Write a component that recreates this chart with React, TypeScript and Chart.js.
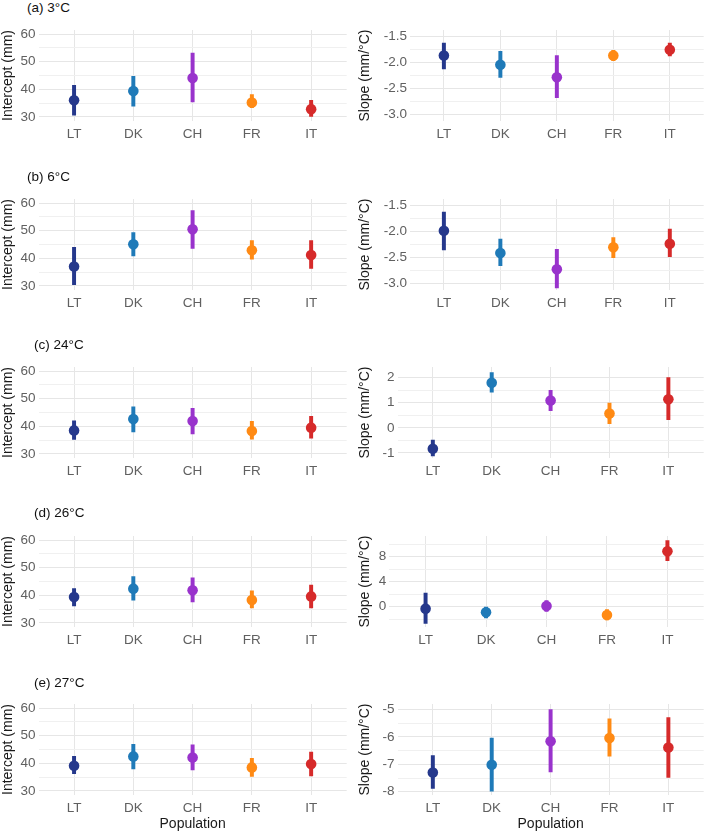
import React, { useEffect, useRef } from "react";
import { Chart, registerables } from "chart.js";

Chart.register(...registerables);

// ---------- data ----------
const populations = ["LT", "DK", "CH", "FR", "IT"];
const popColors = ["#25388C", "#1F7AB8", "#9933CC", "#FF8A14", "#D62A2A"];
const panelTags = ["(a) 3°C", "(b) 6°C", "(c) 24°C", "(d) 26°C", "(e) 27°C"];

const intercept3Est = [36.0, 39.4, 44.1, 35.2, 32.8];
const intercept3Low = [30.6, 33.9, 35.4, 33.3, 30.2];
const intercept3High = [41.4, 44.7, 53.1, 38.1, 36.0];

const slope3Est = [-1.87, -2.05, -2.29, -1.87, -1.76];
const slope3Low = [-2.13, -2.29, -2.68, -1.97, -1.88];
const slope3High = [-1.63, -1.79, -1.87, -1.77, -1.63];

const intercept6Est = [37.0, 45.1, 50.5, 42.9, 41.2];
const intercept6Low = [30.4, 40.9, 43.6, 39.7, 36.3];
const intercept6High = [44.0, 49.3, 57.3, 46.4, 46.4];

const slope6Est = [-1.99, -2.42, -2.73, -2.31, -2.24];
const slope6Low = [-2.36, -2.66, -3.09, -2.51, -2.49];
const slope6High = [-1.63, -2.15, -2.35, -2.12, -1.96];

const intercept24Est = [38.5, 42.6, 41.9, 38.3, 39.5];
const intercept24Low = [35.2, 38.0, 37.2, 35.3, 35.7];
const intercept24High = [42.0, 47.1, 46.5, 41.8, 43.6];

const slope24Est = [-0.83, 1.79, 1.09, 0.57, 1.14];
const slope24Low = [-1.12, 1.42, 0.68, 0.17, 0.32];
const slope24High = [-0.49, 2.2, 1.49, 0.98, 2.0];

const intercept26Est = [39.4, 42.4, 41.8, 38.3, 39.6];
const intercept26Low = [36.1, 38.2, 37.6, 35.4, 35.4];
const intercept26High = [42.4, 46.8, 46.3, 41.6, 43.7];

const slope26Est = [-0.32, -0.91, 0.11, -1.33, 8.85];
const slope26Low = [-2.67, -1.81, -0.75, -2.13, 7.36];
const slope26High = [2.19, 0.0, 0.96, -0.48, 10.56];

const intercept27Est = [39.1, 42.5, 42.1, 38.5, 39.7];
const intercept27Low = [36.2, 38.0, 37.6, 35.2, 35.4];
const intercept27High = [42.5, 46.9, 46.7, 41.8, 44.1];

const slope27Est = [-7.3, -7.02, -6.16, -6.04, -6.39];
const slope27Low = [-7.88, -7.98, -7.28, -6.7, -7.48];
const slope27High = [-6.68, -6.04, -5.0, -5.34, -5.3];

// tick labels (major) and minor grid breaks
const interceptTicks = [30, 40, 50, 60];
const interceptMinor = [35, 45, 55];
const slopeTicks36 = [-3.0, -2.5, -2.0, -1.5];
const slopeMinor36 = [-2.75, -2.25, -1.75];
const slopeTicks24 = [-1, 0, 1, 2];
const slopeMinor24 = [-0.5, 0.5, 1.5];
const slopeTicks26 = [0, 4, 8];
const slopeMinor26 = [-2, 2, 6, 10];
const slopeTicks27 = [-8, -7, -6, -5];
const slopeMinor27 = [-7.5, -6.5, -5.5];

// ---------- layout / style ----------
const FONT = "'Liberation Sans', Arial, Helvetica, sans-serif";
const TICK_COLOR = "#606060";
const TITLE_COLOR = "#1a1a1a";
const GRID_MAJOR = "#e6e6e6";
const GRID_MINOR = "#f0f0f0";

const rowTops = [0, 169, 337, 506, 674];
const tagCenters = [8, 177, 345, 512.5, 682.5];
const tagLefts = [27, 27, 34, 34, 34];
const rightAxisWidths = [53, 53, 40.5, 32.3, 40.5];

type PanelSpec = {
  key: string;
  left: number;
  top: number;
  width: number;
  height: number;
  est: number[];
  low: number[];
  high: number[];
  yTitle: string;
  yMin: number;
  yMax: number;
  major: number[];
  minor: number[];
  decimals: number;
  axisWidth: number;
  padRight: number;
  xAxisHeight: number;
  xTitle?: string;
};

const leftData = [
  [intercept3Est, intercept3Low, intercept3High],
  [intercept6Est, intercept6Low, intercept6High],
  [intercept24Est, intercept24Low, intercept24High],
  [intercept26Est, intercept26Low, intercept26High],
  [intercept27Est, intercept27Low, intercept27High],
];
const rightData = [
  [slope3Est, slope3Low, slope3High],
  [slope6Est, slope6Low, slope6High],
  [slope24Est, slope24Low, slope24High],
  [slope26Est, slope26Low, slope26High],
  [slope27Est, slope27Low, slope27High],
];
const rightScales = [
  { min: -3.13, max: -1.38, major: slopeTicks36, minor: slopeMinor36, decimals: 1 },
  { min: -3.13, max: -1.38, major: slopeTicks36, minor: slopeMinor36, decimals: 1 },
  { min: -1.2, max: 2.42, major: slopeTicks24, minor: slopeMinor24, decimals: 0 },
  { min: -3.25, max: 11.3, major: slopeTicks26, minor: slopeMinor26, decimals: 0 },
  { min: -8.12, max: -4.8, major: slopeTicks27, minor: slopeMinor27, decimals: 0 },
];

const panels: PanelSpec[] = [];
rowTops.forEach((T, r) => {
  const last = r === rowTops.length - 1;
  const xAxisHeight = last ? 39 : 26;
  const height = 14 + 91 + xAxisHeight;
  panels.push({
    key: `L${r}`,
    left: 0,
    top: T + 16,
    width: 352,
    height,
    est: leftData[r][0],
    low: leftData[r][1],
    high: leftData[r][2],
    yTitle: "Intercept (mm)",
    yMin: 28.5,
    yMax: 61.5,
    major: interceptTicks,
    minor: interceptMinor,
    decimals: 0,
    axisWidth: 38.5,
    padRight: 2.8,
    xAxisHeight,
    xTitle: last ? "Population" : undefined,
  });
  const s = rightScales[r];
  panels.push({
    key: `R${r}`,
    left: 357,
    top: T + 16,
    width: 352,
    height,
    est: rightData[r][0],
    low: rightData[r][1],
    high: rightData[r][2],
    yTitle: "Slope (mm/°C)",
    yMin: s.min,
    yMax: s.max,
    major: s.major,
    minor: s.minor,
    decimals: s.decimals,
    axisWidth: rightAxisWidths[r],
    padRight: 1.5,
    xAxisHeight,
    xTitle: last ? "Population" : undefined,
  });
});

function Panel({ spec }: { spec: PanelSpec }) {
  const ref = useRef<HTMLCanvasElement>(null);
  useEffect(() => {
    const canvas = ref.current;
    if (!canvas) return;
    const allTicks = [...spec.major, ...spec.minor].sort((a, b) => a - b);
    const isMajor = (v: any) => spec.major.includes(v);
    const chart = new Chart(canvas, {
      type: "scatter",
      data: {
        datasets: [
          {
            type: "bar",
            data: populations.map((_, i) => ({ x: i, y: [spec.low[i], spec.high[i]] })) as any,
            backgroundColor: popColors,
            borderWidth: 0,
            barThickness: 3.3,
            order: 2,
          } as any,
          {
            type: "scatter",
            data: populations.map((_, i) => ({ x: i, y: spec.est[i] })),
            backgroundColor: popColors,
            pointBackgroundColor: popColors,
            pointBorderColor: popColors,
            pointBorderWidth: 0,
            pointRadius: 5.3,
            order: 1,
          } as any,
        ],
      },
      options: {
        animation: false,
        responsive: false,
        maintainAspectRatio: false,
        events: [],
        layout: { padding: { top: 14, right: spec.padRight, left: 0, bottom: 0 } },
        plugins: { legend: { display: false }, tooltip: { enabled: false }, title: { display: false } },
        scales: {
          x: {
            type: "linear",
            min: -0.6,
            max: 4.6,
            offset: false,
            afterBuildTicks: (s: any) => {
              s.ticks = populations.map((_, i) => ({ value: i }));
            },
            afterFit: (s: any) => {
              s.height = spec.xAxisHeight;
            },
            ticks: {
              callback: (v: any) => populations[v as number] ?? "",
              autoSkip: false,
              maxRotation: 0,
              minRotation: 0,
              padding: 5,
              color: TICK_COLOR,
              font: { family: FONT, size: 13.5 },
            },
            grid: { color: GRID_MAJOR, lineWidth: 1, drawTicks: false, offset: false },
            border: { display: false },
            title: spec.xTitle
              ? {
                  display: true,
                  text: spec.xTitle,
                  color: TITLE_COLOR,
                  font: { family: FONT, size: 14 },
                  padding: { top: 0, bottom: 1 },
                }
              : { display: false },
          },
          y: {
            type: "linear",
            min: spec.yMin,
            max: spec.yMax,
            afterBuildTicks: (s: any) => {
              s.ticks = allTicks.map((v) => ({ value: v }));
            },
            afterFit: (s: any) => {
              s.width = spec.axisWidth;
            },
            ticks: {
              callback: (v: any) => (isMajor(v) ? Number(v).toFixed(spec.decimals) : ""),
              autoSkip: false,
              padding: 3,
              color: TICK_COLOR,
              font: { family: FONT, size: 13.5 },
            },
            grid: {
              color: (ctx: any) => (isMajor(ctx.tick?.value) ? GRID_MAJOR : GRID_MINOR),
              lineWidth: 1,
              drawTicks: false,
            },
            border: { display: false },
            title: {
              display: true,
              text: spec.yTitle,
              color: TITLE_COLOR,
              font: { family: FONT, size: 14 },
              padding: { top: 0, bottom: 0 },
            },
          },
        },
      } as any,
    });
    return () => chart.destroy();
  }, [spec]);
  return (
    <canvas
      ref={ref}
      width={spec.width}
      height={spec.height}
      style={{
        position: "absolute",
        left: spec.left,
        top: spec.top,
        width: spec.width,
        height: spec.height,
      }}
    />
  );
}

export default function App() {
  return (
    <div
      style={{
        position: "absolute",
        left: 0,
        top: 0,
        width: 709,
        height: 834,
        background: "#ffffff",
        overflow: "hidden",
      }}
    >
      {panels.map((p) => (
        <Panel key={p.key} spec={p} />
      ))}
      {panelTags.map((t, i) => (
        <div
          key={t}
          style={{
            position: "absolute",
            left: tagLefts[i],
            top: tagCenters[i] - 8,
            lineHeight: "16px",
            fontSize: 13.5,
            fontFamily: FONT,
            color: "#111111",
            whiteSpace: "nowrap",
          }}
        >
          {t}
        </div>
      ))}
    </div>
  );
}
